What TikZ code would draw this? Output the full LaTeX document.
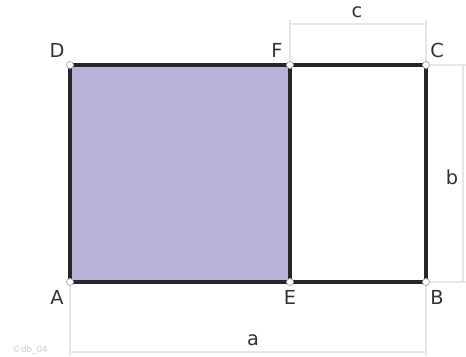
\documentclass[tikz,border=0pt]{standalone}
\usepackage{fontspec}
\setmainfont{DejaVu Sans}
\definecolor{areafill}{HTML}{B8B3D8}
\definecolor{edgecol}{HTML}{262626}
\definecolor{dimcol}{HTML}{E6E6E6}
\definecolor{labcol}{HTML}{333333}

\begin{document}
\begin{tikzpicture}[x=0.02cm, y=-0.02cm,
  corner/.style={circle, draw=gray!70, fill=white, inner sep=0pt, minimum size=4pt, line width=0.4pt},
  lab/.style={text=labcol, font=\fontsize{11}{13}\selectfont, inner sep=0pt},
  side/.style={draw=edgecol, line width=2pt},
  dimline/.style={draw=dimcol, line width=0.8pt}]
			\useasboundingbox (0,0) rectangle (466,356);

			\coordinate (A) at (70,282);
			\coordinate (B) at (426,282);
			\coordinate (C) at (426,65);
			\coordinate (D) at (70,65);
			\coordinate (E) at (290,282);
			\coordinate (F) at (290,65);

			% dimension ends
			\coordinate (c1) at (290,24);
			\coordinate (c2) at (426,24);
			\coordinate (b1) at (463,65);
			\coordinate (b2) at (463,282);
			\coordinate (a1) at (70,352);
			\coordinate (a2) at (426,352);

			\fill[areafill] (A) rectangle (F);

			\path[dimline] (F) -- (290,20);
			\path[dimline] (C) -- (426,20);
			\path[dimline] (c1) -- (c2);
			\path[dimline] (C) -- (466,65);
			\path[dimline] (B) -- (466,282);
			\path[dimline] (b1) -- (b2);
			\path[dimline] (A) -- (70,356);
			\path[dimline] (B) -- (426,356);
			\path[dimline] (a1) -- (a2);

			\path[side] (A) -- (B) -- (C) -- (D) -- cycle;
			\path[side] (E) -- (F);

			\foreach \p in {A,B,C,D,E,F}
				\node[corner] at (\p) {};

			\node[lab] (lA) at (57,297) {A};
			\node[lab] (lB) at (437,297) {B};
			\node[lab] (lC) at (437,50) {C};
			\node[lab] (lD) at (57,50) {D};
			\node[lab] (lE) at (290,297) {E};
			\node[lab] (lF) at (277,50) {F};
			\node[lab] (la) at (253,340) {a};
			\node[lab] (lb) at (452,177) {b};
			\node[lab] (lc) at (357,12) {c};
			\node[lab, text=gray!40, font=\fontsize{5}{6}\selectfont] (lnote) at (30,350) {©db\_04};
\end{tikzpicture}
\end{document}
